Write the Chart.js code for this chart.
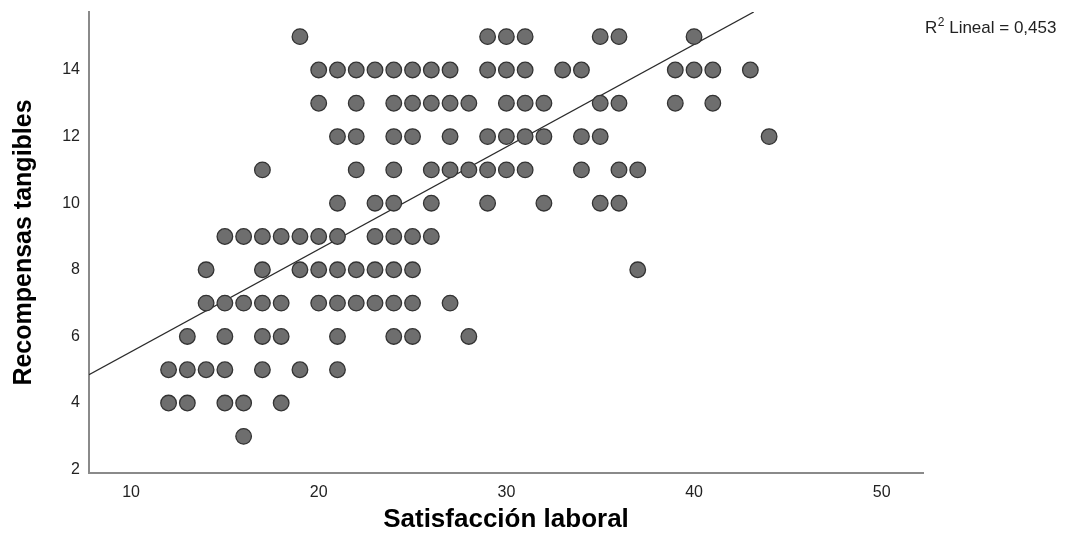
<!DOCTYPE html>
<html>
<head>
<meta charset="utf-8">
<script src="https://cdn.jsdelivr.net/npm/chart.js@4"></script>
<style>
  html, body { margin: 0; padding: 0; background: #fff; }
  #wrap { width: 1070px; height: 545px; }
</style>
</head>
<body>
<div id="wrap"><canvas id="myChart" width="1070" height="545"></canvas></div>
<script>
// Recompensas tangibles (y) levels and the Satisfacción laboral (x) values seen on each level
const niveles = [15, 14, 13, 12, 11, 10, 9, 8, 7, 6, 5, 4, 3]
const satisfaccion = [
  [19, 29, 30, 31, 35, 36, 40],
  [20, 21, 22, 23, 24, 25, 26, 27, 29, 30, 31, 33, 34, 39, 40, 41, 43],
  [20, 22, 24, 25, 26, 27, 28, 30, 31, 32, 35, 36, 39, 41],
  [21, 22, 24, 25, 27, 29, 30, 31, 32, 34, 35, 44],
  [17, 22, 24, 26, 27, 28, 29, 30, 31, 34, 36, 37],
  [21, 23, 24, 26, 29, 32, 35, 36],
  [15, 16, 17, 18, 19, 20, 21, 23, 24, 25, 26],
  [14, 17, 19, 20, 21, 22, 23, 24, 25, 37],
  [14, 15, 16, 17, 18, 20, 21, 22, 23, 24, 25, 27],
  [13, 15, 17, 18, 21, 24, 25, 28],
  [12, 13, 14, 15, 17, 19, 21],
  [12, 13, 15, 16, 18],
  [16]
]

// fit line endpoints
const ajusteX = [7.76, 43.18]
const ajusteY = [4.85, 15.74]
const r2Texto = ' Lineal = 0,453'

const xTicks = [10, 20, 30, 40, 50]
const yTicks = [2, 4, 6, 8, 10, 12, 14]

const puntos = []
niveles.forEach((y, i) => {
  satisfaccion[i].forEach(x => puntos.push({x: x, y: y}))
})

const r2Label = {
  id: 'r2Label',
  afterDraw(chart) {
    const c = chart.ctx
    c.save()
    c.fillStyle = '#222'
    c.textBaseline = 'alphabetic'
    c.font = '17px "Liberation Sans", Arial, sans-serif'
    const x0 = 925, base = 33
    c.fillText('R', x0, base)
    let w = c.measureText('R').width
    c.font = '12px "Liberation Sans", Arial, sans-serif'
    c.fillText('2', x0 + w + 0.5, base - 7)
    w += c.measureText('2').width + 0.5
    c.font = '17px "Liberation Sans", Arial, sans-serif'
    c.fillText(r2Texto, x0 + w, base)
    c.restore()
  }
}

const ctx = document.querySelector('#myChart')
new Chart(ctx, {
  type: 'scatter',
  data: {
    datasets: [{
      label: 'Observado',
      data: puntos,
      backgroundColor: '#6e6e6e',
      borderColor: '#333',
      borderWidth: 1.3,
      pointRadius: 7.8,
      pointHoverRadius: 7.8
    }, {
      type: 'line',
      label: 'Lineal',
      data: ajusteX.map((x, i) => ({x: x, y: ajusteY[i]})),
      borderColor: '#2b2b2b',
      borderWidth: 1.3,
      pointRadius: 0,
      fill: false
    }]
  },
  options: {
    responsive: false,
    animation: false,
    layout: { padding: { left: 0, right: 147, top: 12, bottom: 0 } },
    plugins: { legend: { display: false }, tooltip: { enabled: false } },
    scales: {
      x: {
        type: 'linear',
        min: 7.76,
        max: 52.2,
        afterBuildTicks: s => { s.ticks = xTicks.map(v => ({value: v})) },
        afterFit: s => { s.height = 72; s.paddingLeft = 0; s.paddingRight = 0 },
        grid: { display: false, drawTicks: false },
        border: { display: true, color: '#8a8a8a', width: 2 },
        ticks: { color: '#222', padding: 10, font: { size: 16, family: '"Liberation Sans", Arial, sans-serif' } },
        title: {
          display: true,
          text: 'Satisfacción laboral',
          color: '#000',
          padding: { top: 0, bottom: 10 },
          font: { size: 26, weight: 'bold', family: '"Liberation Sans", Arial, sans-serif' }
        }
      },
      y: {
        min: 1.9,
        max: 15.74,
        afterBuildTicks: s => { s.ticks = yTicks.map(v => ({value: v})) },
        afterFit: s => { s.width = 89; s.paddingTop = 0; s.paddingBottom = 0 },
        grid: { display: false, drawTicks: false },
        border: { display: true, color: '#8a8a8a', width: 2 },
        ticks: { color: '#222', padding: 9, font: { size: 16, family: '"Liberation Sans", Arial, sans-serif' } },
        title: {
          display: true,
          text: 'Recompensas tangibles',
          color: '#000',
          padding: { top: 9, bottom: 0 },
          font: { size: 25, weight: 'bold', family: '"Liberation Sans", Arial, sans-serif' }
        }
      }
    }
  },
  plugins: [r2Label]
})
</script>
</body>
</html>
